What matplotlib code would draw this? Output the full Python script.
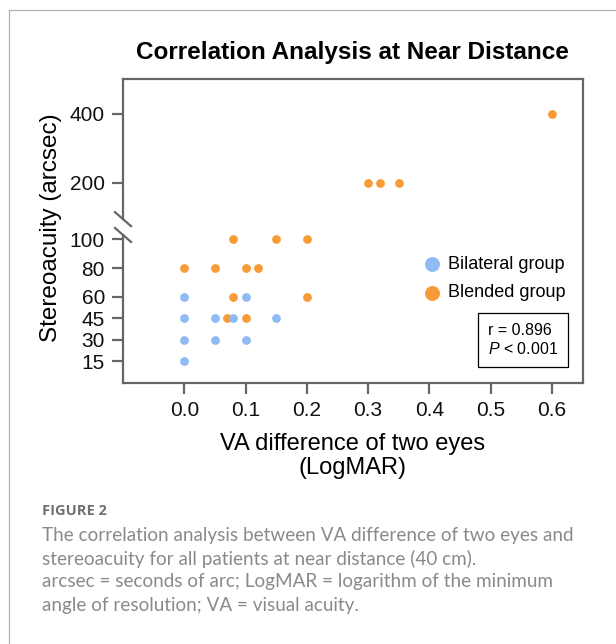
import numpy as np
import matplotlib
matplotlib.use("Agg")
import matplotlib.pyplot as plt
from matplotlib.lines import Line2D

plt.rcParams['font.family'] = ['Liberation Sans', 'DejaVu Sans']
plt.rcParams['mathtext.fontset'] = 'custom'
plt.rcParams['mathtext.it'] = 'Liberation Sans:italic'
plt.rcParams['mathtext.rm'] = 'Liberation Sans'

# ---- data ----
bilateral_x = [0.0, 0.0, 0.0, 0.0, 0.05, 0.05, 0.08, 0.10, 0.10, 0.15]
bilateral_y = [60, 45, 30, 15, 45, 30, 45, 60, 30, 45]
blended_x = [0.0, 0.05, 0.08, 0.10, 0.12, 0.15, 0.20, 0.08, 0.20, 0.07, 0.10,
             0.30, 0.32, 0.35, 0.60]
blended_y = [80, 80, 100, 80, 80, 100, 100, 60, 60, 45, 45,
             200, 200, 200, 400]
x_ticks = [0.0, 0.1, 0.2, 0.3, 0.4, 0.5, 0.6]
y_ticks = [15, 30, 45, 60, 80, 100, 200, 400]
title = "Correlation Analysis at Near Distance"
xlabel = "VA difference of two eyes\n(LogMAR)"
ylabel = "Stereoacuity (arcsec)"
stat_text = "r = 0.896\n$P$ < 0.001"
caption_head = "FIGURE 2"
caption_lines = [
    "The correlation analysis between VA difference of two eyes and",
    "stereoacuity for all patients at near distance (40 cm).",
    "arcsec = seconds of arc; LogMAR = logarithm of the minimum",
    "angle of resolution; VA = visual acuity.",
]

BLUE = '#8EBBF4'
ORANGE = '#F79B38'
SPINE = '#666666'

# broken y scale: linear 0-100 below, compressed above with a jump
A, BRK, JUMP, B = 1.435, 100.0, 165.5, 0.345


def fwd(v):
    v = np.asarray(v, dtype=float)
    return np.where(v <= BRK, A * v, JUMP + B * (v - BRK))


def inv(p):
    p = np.asarray(p, dtype=float)
    low = p / A
    high = BRK + (p - JUMP) / B
    return np.where(p <= A * BRK, low, np.where(p < JUMP, BRK, high))


fig = plt.figure(figsize=(6.16, 6.44), dpi=100)
ax = fig.add_axes([123 / 616, 1 - 383 / 644, 460 / 616, 304 / 644])
ax.set_yscale('function', functions=(fwd, inv))

ax.scatter(blended_x, blended_y, s=40, color=ORANGE, linewidths=0,
           label='Blended group', zorder=3)
ax.scatter(bilateral_x, bilateral_y, s=40, color=BLUE, linewidths=0,
           label='Bilateral group', zorder=3)

ax.set_xlim(-0.1, 0.651)
ax.set_ylim(0, 500)
ax.set_xticks(x_ticks)
ax.set_xticklabels([f"{t:.1f}" for t in x_ticks])
ax.set_yticks(y_ticks)
ax.set_yticklabels([str(t) for t in y_ticks])
ax.yaxis.set_minor_locator(matplotlib.ticker.NullLocator())
ax.xaxis.set_minor_locator(matplotlib.ticker.NullLocator())

for s in ax.spines.values():
    s.set_color(SPINE)
    s.set_linewidth(1.6)
ax.spines['left'].set_visible(False)
ax.tick_params(axis='both', length=8, width=1.6, color=SPINE,
               labelsize=15, labelcolor='#111111')
ax.tick_params(axis='x', pad=5)
ax.tick_params(axis='y', pad=5)

# broken left spine with slashes
lo_top, hi_bot = 0.487, 0.539
for (y0, y1) in [(0, lo_top), (hi_bot, 1.0)]:
    ax.add_line(Line2D([0, 0], [y0, y1], transform=ax.transAxes, color=SPINE,
                       lw=1.6, clip_on=False, solid_capstyle='projecting'))
dx, dy = 0.0174, 0.023
for yc in (lo_top, hi_bot):
    ax.add_line(Line2D([-dx, dx], [yc + dy, yc - dy], transform=ax.transAxes,
                       color=SPINE, lw=1.6, clip_on=False))

# legend
handles, labels = ax.get_legend_handles_labels()
order = [1, 0]
ax.legend([handles[i] for i in order], [labels[i] for i in order],
          loc='center left', bbox_to_anchor=(0.652, 0.343), frameon=False,
          fontsize=13, markerscale=1.7, handlelength=1.0, handletextpad=0.4,
          labelspacing=0.62, borderpad=0, borderaxespad=0)

# stats box
ax.text(0.7935, 0.1414, stat_text, transform=ax.transAxes, ha='left',
        va='center', fontsize=11.5, linespacing=1.25,
        bbox=dict(boxstyle='square,pad=0.6', fc='white', ec='black', lw=0.9))

# title and labels
fig.text(352 / 616, 1 - 52 / 644, title, ha='center', va='center',
         fontsize=17.5, fontweight='bold')
fig.text(353 / 616, 1 - 456 / 644, xlabel, ha='center', va='center',
         fontsize=17, linespacing=1.15, multialignment='center')
fig.text(51 / 616, 1 - 228 / 644, ylabel, ha='center', va='center',
         rotation=90, fontsize=17.5)

# caption
fig.text(42 / 616, 1 - 511 / 644, caption_head, ha='left', va='center',
         fontsize=10.5, fontweight='bold', color='#707070', family='Open Sans')
for i, line in enumerate(caption_lines):
    fig.text(42 / 616, 1 - (535 + 23.5 * i) / 644, line, ha='left',
             va='center', fontsize=13.6, color='#8a8a8a', family='Lato')

# outer frame
fig.add_artist(Line2D([9 / 616, 9 / 616], [0, 1 - 10 / 644],
                      transform=fig.transFigure, color='#b0b0b0', lw=0.9))
fig.add_artist(Line2D([9 / 616, 1], [1 - 10 / 644, 1 - 10 / 644],
                      transform=fig.transFigure, color='#b0b0b0', lw=0.9))

fig.savefig('out.png', dpi=100)
